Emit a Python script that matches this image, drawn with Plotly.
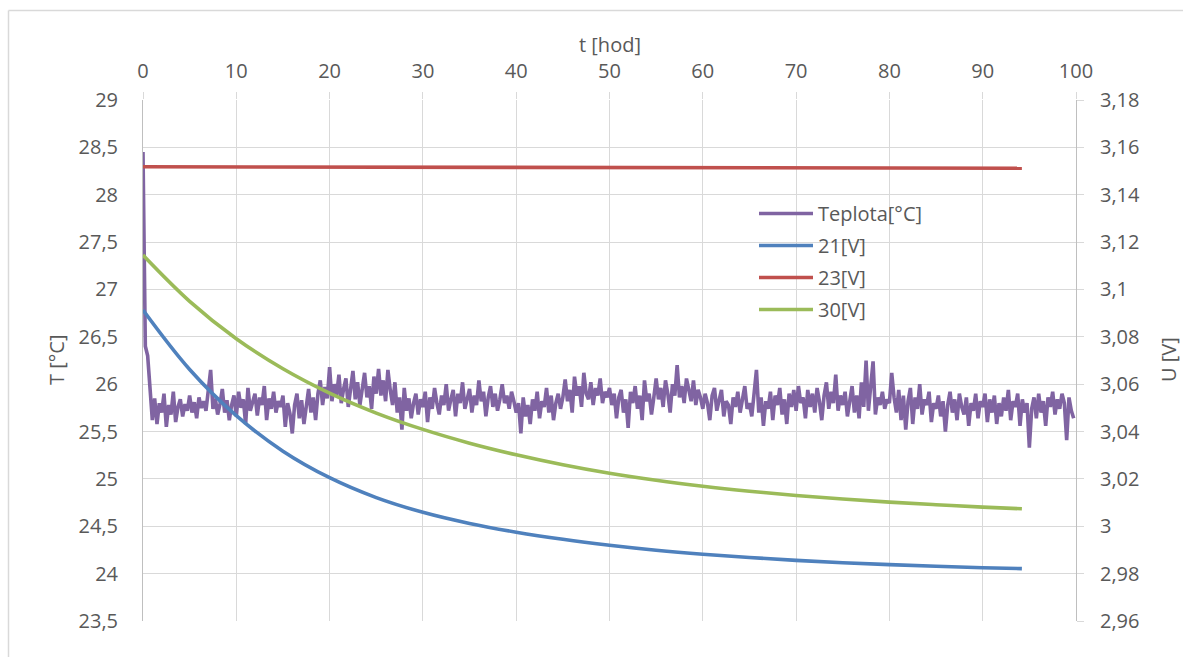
import numpy as np
import plotly.graph_objects as go

# Temperature log, one sample every 15 minutes (hours on the x axis)
KROK_H = 0.25
teplota = [
    28.45, 26.40, 26.30, 25.95, 25.62, 25.85, 25.58, 25.80, 25.70, 25.90, 25.55, 25.78, 25.68, 25.92, 25.60, 25.76, 25.84, 25.66, 25.79, 25.72,
    25.88, 25.70, 25.81, 25.64, 25.86, 25.75, 25.82, 25.72, 25.90, 26.15, 25.74, 25.85, 25.68, 25.79, 25.95, 25.70, 25.83, 25.62, 25.78, 25.88,
    25.66, 25.92, 25.75, 25.84, 25.58, 25.96, 25.72, 25.80, 25.90, 25.67, 25.86, 25.78, 25.98, 25.62, 25.85, 25.74, 25.92, 25.70, 25.82, 25.76,
    25.88, 25.55, 25.80, 25.69, 25.48, 25.78, 25.90, 25.64, 25.83, 25.58, 25.76, 25.95, 25.70, 25.86, 25.62, 25.90, 26.04, 25.78, 25.97, 25.85,
    26.18, 25.82, 26.00, 25.88, 26.10, 25.80, 25.95, 26.06, 25.76, 25.92, 26.14, 25.84, 26.02, 25.78, 25.96, 26.12, 25.86, 25.98, 25.74, 26.08,
    25.90, 26.16, 25.88, 26.04, 25.82, 26.15, 25.94, 25.78, 26.02, 25.70, 25.86, 25.52, 25.96, 25.72, 25.85, 25.64, 25.80, 25.90, 25.68, 25.84,
    25.76, 25.92, 25.60, 25.86, 25.74, 25.96, 25.80, 25.68, 25.88, 25.78, 26.00, 25.72, 25.84, 25.94, 25.66, 25.90, 25.80, 26.02, 25.74, 25.86,
    25.95, 25.70, 25.88, 25.78, 26.04, 25.82, 25.92, 25.66, 25.86, 25.98, 25.76, 25.90, 25.72, 25.84, 26.00, 25.80, 25.88, 25.74, 25.92, 25.82,
    25.70, 25.80, 25.48, 25.86, 25.66, 25.78, 25.58, 25.84, 25.72, 25.92, 25.64, 25.82, 25.76, 25.96, 25.70, 25.88, 25.62, 25.80, 25.90, 25.74,
    25.86, 26.05, 25.82, 25.94, 25.70, 26.08, 25.88, 25.98, 25.76, 26.12, 25.90, 25.84, 26.02, 25.78, 25.96, 25.88, 26.06, 25.80, 25.92, 25.86,
    25.96, 25.78, 25.90, 25.64, 25.86, 25.94, 25.70, 25.84, 25.54, 25.92, 25.80, 25.98, 25.74, 25.88, 25.62, 26.04, 25.82, 25.90, 25.68, 25.86,
    26.06, 25.84, 25.96, 25.76, 26.04, 25.90, 25.70, 26.00, 25.88, 26.20, 25.86, 25.98, 25.80, 26.06, 25.92, 25.82, 26.04, 25.78, 25.94, 25.86,
    25.74, 25.90, 25.80, 25.62, 25.88, 25.96, 25.72, 25.84, 25.94, 25.66, 25.82, 25.78, 25.58, 25.86, 25.76, 25.92, 25.70, 25.84, 25.98, 25.74,
    25.80, 25.66, 25.90, 26.15, 25.70, 25.86, 25.56, 25.82, 25.74, 25.92, 25.62, 25.88, 25.78, 25.96, 25.68, 25.84, 25.58, 25.90, 25.76, 25.94,
    25.72, 25.98, 25.80, 25.86, 25.64, 25.94, 25.76, 25.90, 25.70, 25.96, 25.82, 25.62, 25.88, 26.02, 25.74, 25.92, 25.80, 26.10, 25.72, 25.88,
    25.78, 25.92, 25.66, 25.84, 25.98, 25.70, 25.88, 25.64, 26.02, 25.76, 26.25, 25.72, 25.94, 26.24, 25.68, 25.86, 25.78, 25.92, 25.74, 25.84,
    25.80, 26.12, 25.86, 25.70, 25.94, 25.62, 25.88, 25.52, 25.82, 25.96, 25.58, 25.86, 25.74, 26.00, 25.68, 25.84, 25.78, 25.92, 25.60, 25.80,
    25.74, 25.88, 25.66, 25.82, 25.50, 25.78, 25.92, 25.70, 25.84, 25.62, 25.90, 25.76, 25.68, 25.86, 25.56, 25.80, 25.72, 25.90, 25.64, 25.82,
    25.76, 25.90, 25.60, 25.84, 25.70, 25.88, 25.58, 25.80, 25.66, 25.86, 25.72, 25.94, 25.62, 25.82, 25.76, 25.90, 25.56, 25.84, 25.70, 25.80,
    25.33, 25.74, 25.86, 25.64, 25.90, 25.70, 25.82, 25.56, 25.86, 25.76, 25.92, 25.68, 25.84, 25.74, 25.90, 25.80, 25.41, 25.86, 25.72, 25.64,
]
t_teplota = np.arange(len(teplota)) * KROK_H

# Cell voltages [V] versus time [h]
t_napeti = [0, 5, 10, 15, 20, 25, 30, 35, 40, 45, 50, 55, 60, 65, 70, 75, 80, 85, 90, 94.2]
u21 = [3.0913, 3.0662, 3.0467, 3.0317, 3.0205, 3.0121, 3.0059, 3.0012, 2.9975, 2.9945,
       2.9920, 2.9899, 2.9882, 2.9868, 2.9856, 2.9846, 2.9838, 2.9831, 2.9825, 2.9821]
u30 = [3.1145, 3.0950, 3.0792, 3.0665, 3.0562, 3.0478, 3.0409, 3.0351, 3.0302, 3.0260,
       3.0224, 3.0194, 3.0169, 3.0148, 3.0130, 3.0115, 3.0102, 3.0091, 3.0081, 3.0074]
t_u23 = [0, 20, 40, 60, 80, 94.2]
u23 = [3.1518, 3.1517, 3.1516, 3.1514, 3.1513, 3.1512]

# Axis ticks
x_ticks = [0, 10, 20, 30, 40, 50, 60, 70, 80, 90, 100]
t_ticks = [29, 28.5, 28, 27.5, 27, 26.5, 26, 25.5, 25, 24.5, 24, 23.5]
t_labels = ["29", "28,5", "28", "27,5", "27", "26,5", "26", "25,5", "25", "24,5", "24", "23,5"]
u_ticks = [3.18, 3.16, 3.14, 3.12, 3.10, 3.08, 3.06, 3.04, 3.02, 3.00, 2.98, 2.96]
u_labels = ["3,18", "3,16", "3,14", "3,12", "3,1", "3,08", "3,06", "3,04", "3,02", "3", "2,98", "2,96"]

FONT = "Open Sans"
TXT = "#595959"
GRID = "#d9d9d9"
AXIS = "#bfbfbf"
LW = 3.6

W, H = 1183, 657
L, R, T, B = 143, 107, 100, 36
PW, PH = W - L - R, H - T - B


def px(x):
    return (x - L) / PW


def py(y):
    return (H - B - y) / PH


fig = go.Figure()
fig.add_trace(go.Scatter(x=t_teplota, y=teplota, name="Teplota[°C]", mode="lines",
                         line=dict(color="#8064A2", width=LW), legendgroup="a"))
fig.add_trace(go.Scatter(x=t_napeti, y=u21, name="21[V]", mode="lines", yaxis="y2",
                         line=dict(color="#4F81BD", width=LW, shape="spline", smoothing=1),
                         legendgroup="b"))
fig.add_trace(go.Scatter(x=t_u23, y=u23, name="23[V]", mode="lines", yaxis="y2",
                         line=dict(color="#C0504D", width=LW), legendgroup="c"))
fig.add_trace(go.Scatter(x=t_napeti, y=u30, name="30[V]", mode="lines", yaxis="y2",
                         line=dict(color="#9BBB59", width=LW, shape="spline", smoothing=1),
                         legendgroup="d"))

fig.update_layout(
    width=W, height=H,
    margin=dict(l=L, r=R, t=T, b=B, autoexpand=False),
    paper_bgcolor="white", plot_bgcolor="white",
    font=dict(family=FONT, size=20, color=TXT),
    xaxis=dict(range=[0, 100], side="top", tickvals=x_ticks, showgrid=True, gridcolor=GRID,
               gridwidth=1, ticks="outside", ticklen=7, tickcolor=GRID, zeroline=False,
               showline=False, ticklabelstandoff=6, tickfont=dict(size=20, color=TXT)),
    yaxis=dict(range=[23.5, 29], tickvals=t_ticks, ticktext=t_labels, showgrid=True,
               gridcolor=GRID, gridwidth=1, zeroline=False, showline=True, linecolor=AXIS,
               linewidth=1, ticks="", ticklabelstandoff=20, tickfont=dict(size=20, color=TXT)),
    yaxis2=dict(range=[2.96, 3.18], tickvals=u_ticks, ticktext=u_labels, overlaying="y",
                side="right", showgrid=False, zeroline=False, showline=True, linecolor=AXIS,
                linewidth=1, ticks="outside", ticklen=7, tickcolor=GRID,
                ticklabelstandoff=12, tickfont=dict(size=20, color=TXT)),
    legend=dict(x=px(754), y=py(194), xanchor="left", yanchor="top", bgcolor="rgba(0,0,0,0)",
                font=dict(size=20, color=TXT), traceorder="grouped", tracegroupgap=3,
                itemwidth=54),
    showlegend=True,
    annotations=[
        dict(text="t [hod]", x=px(610), y=py(45), xref="paper", yref="paper", showarrow=False,
             font=dict(size=20, color=TXT), xanchor="center", yanchor="middle"),
        dict(text="T [°C]", x=px(56), y=py(360), xref="paper", yref="paper", showarrow=False,
             textangle=-90, font=dict(size=20, color=TXT), xanchor="center", yanchor="middle"),
        dict(text="U [V]", x=px(1168), y=py(360), xref="paper", yref="paper", showarrow=False,
             textangle=-90, font=dict(size=20, color=TXT), xanchor="center", yanchor="middle"),
    ],
    shapes=[
        dict(type="line", xref="paper", yref="paper", x0=px(8.5), x1=px(8.5), y0=py(10.5), y1=py(H + 5),
             line=dict(color=GRID, width=1.5)),
        dict(type="line", xref="paper", yref="paper", x0=px(8.5), x1=px(W + 5), y0=py(10.5), y1=py(10.5),
             line=dict(color=GRID, width=1.5)),
    ],
)

fig.write_html("out.html")
